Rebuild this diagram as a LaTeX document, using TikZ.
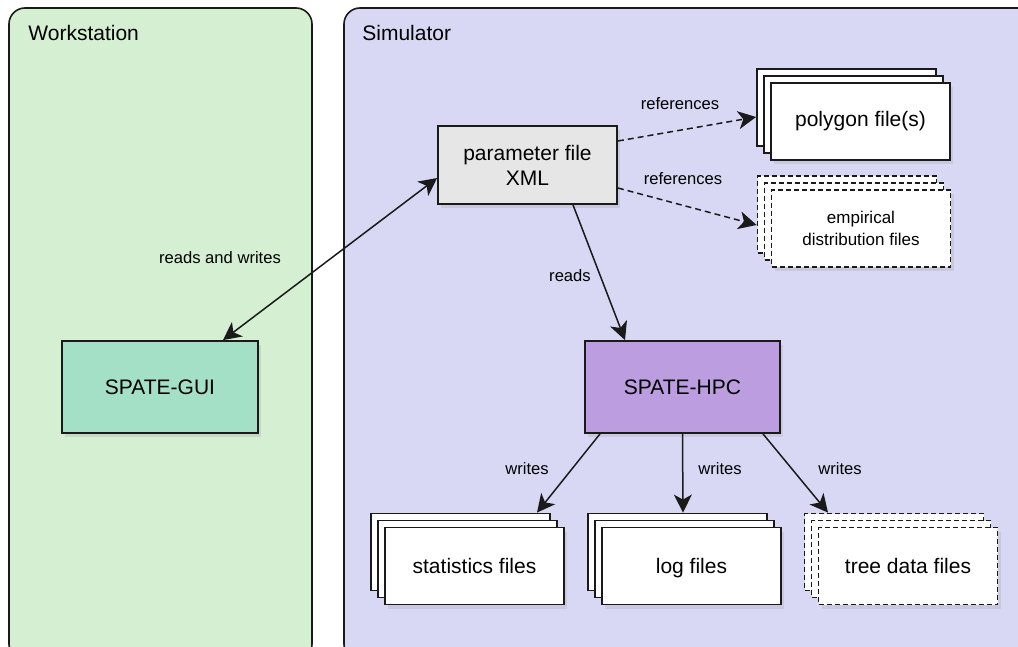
\documentclass[tikz,border=0pt]{standalone}
\usepackage{fontspec}
\setmainfont{Liberation Sans}
\usetikzlibrary{arrows.meta, shadows}

\definecolor{wsgreen}{HTML}{D5EFD3}
\definecolor{simblue}{HTML}{D8D8F4}
\definecolor{xmlgray}{HTML}{E6E6E6}
\definecolor{guimint}{HTML}{A3E0C6}
\definecolor{hpcpurple}{HTML}{BB9DE0}
\definecolor{edge}{HTML}{1A1A1A}

\begin{document}
\begin{tikzpicture}[x=0.5pt,y=-0.5pt,
  panel/.style={draw=edge,line width=0.8pt,rounded corners=8pt},
  title/.style={anchor=west,inner sep=0pt,font=\fontsize{10.5}{12.5}\selectfont},
  box/.style={draw=edge,line width=0.9pt,inner sep=0pt,align=center,
    font=\fontsize{10.5}{12.5}\selectfont,
    drop shadow={shadow xshift=1.5pt,shadow yshift=-2pt,opacity=0.18}},
  stack/.style={box,fill=white,minimum width=89.5pt,minimum height=38.5pt,
    copy shadow={shadow xshift=-7pt,shadow yshift=7pt,fill=white,draw=edge},
    copy shadow={shadow xshift=-3.5pt,shadow yshift=3.5pt,fill=white,draw=edge}},
  dashbox/.style={dash pattern=on 2.5pt off 1.5pt},
  lbl/.style={inner sep=1pt,font=\fontsize{8.3}{10}\selectfont},
  conn/.style={draw=edge,line width=0.75pt,-{Stealth[length=9pt,width=9pt,inset=2.5pt]}}]
  \useasboundingbox (0,0) rectangle (1018,647);
  \clip (0,0) rectangle (1018,647);
  \fill[white] (0,0) rectangle (1018,647);
  % the two machines
  \draw[panel,fill=wsgreen] (9,8) rectangle (312,660);
  \draw[panel,fill=simblue] (344,8) rectangle (1040,660);
  \node[title] (wstitle) at (28,33) {Workstation};
  \node[title] (simtitle) at (362,33) {Simulator};
  % boxes
  \path (527.5,165) node[box,fill=xmlgray,minimum width=89.5pt,minimum height=39pt] (param) {parameter file\\XML}
  (160,387) node[box,fill=guimint,minimum width=98pt,minimum height=46pt] (gui) {SPATE-GUI}
  (682.5,387) node[box,fill=hpcpurple,minimum width=97.5pt,minimum height=46pt] (hpc) {SPATE-HPC};
  \path (860.5,121.5) node[stack] (polygon) {polygon file(s)}
  (861,228.5) node[stack,dashbox,font=\fontsize{8.5}{11}\selectfont] (empirical) {empirical\\distribution files}
  (474.5,566) node[stack] (stats) {statistics files}
  (691.5,566) node[stack,text depth=0pt] (logs) {log files}
  (908,566) node[stack,dashbox] (tree) {tree data files};
  % connectors
  \draw[conn,{Stealth[length=9pt,width=9pt,inset=2.5pt]}-{Stealth[length=9pt,width=9pt,inset=2.5pt]}] ([yshift=-6.5pt]param.west) -- ([xshift=31.5pt]gui.north);
  \draw[conn] ([xshift=22.75pt]param.south) -- ([xshift=-28.75pt]hpc.north);
  \draw[conn,dash pattern=on 3pt off 2pt] ([yshift=12pt]param.east) -- ([xshift=-7pt,yshift=2.25pt]polygon.west);
  \draw[conn,dash pattern=on 3pt off 2pt] ([yshift=-11.5pt]param.east) -- ([xshift=-7pt,yshift=1.75pt]empirical.west);
  \draw[conn] ([xshift=-41.25pt]hpc.south) -- ([xshift=31.25pt,yshift=7pt]stats.north);
  \draw[conn] (hpc.south) -- ([xshift=-4.25pt,yshift=7pt]logs.north);
  \draw[conn] ([xshift=40.25pt]hpc.south) -- ([xshift=-40pt,yshift=7pt]tree.north);
  % labels
  \path (220,258) node[lbl] (rw) {reads and writes}
  (570,276) node[lbl] (rd) {reads}
  (680,104) node[lbl] (ref1) {references}
  (683,179) node[lbl] (ref2) {references}
  (527,469) node[lbl] (wr1) {writes}
  (720,469) node[lbl] (wr2) {writes}
  (840,469) node[lbl] (wr3) {writes};
\end{tikzpicture}
\end{document}
